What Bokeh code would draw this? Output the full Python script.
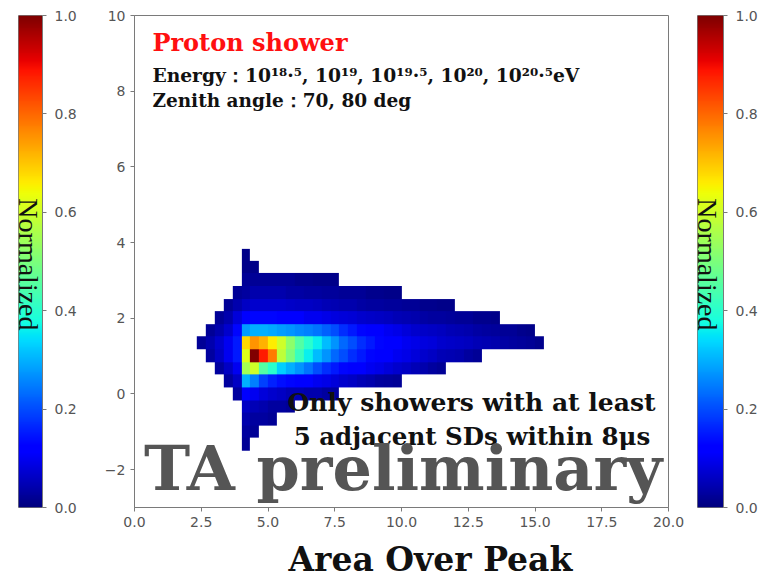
import numpy as np
from bokeh.plotting import figure
from bokeh.layouts import row
from bokeh.models import (LinearColorMapper, FixedTicker, NumeralTickFormatter,
                          Label, Title)
from bokeh.embed import file_html
from bokeh.resources import INLINE

# ---------------- data ----------------
# 2D histogram of (Area Over Peak, y), normalized to the maximum bin.
bin_width = 1 / 3
x_first_edge = 7 / 3      # left edge of histogram column 0
y_top_edge = 23 / 6       # top edge of histogram row 0 (rows run downward)
n_cols = 39

row_first_col = [5, 5, 5, 4, 3, 2, 1, 0, 1, 2, 3, 4, 5, 5, 5, 5]
row_values = [
    [0.01],
    [0.01, 0.01],
    [0.02, 0.02, 0.02, 0.02, 0.02, 0.02, 0.015, 0.015, 0.01, 0.01, 0.01],
    [0.02, 0.03, 0.04, 0.04, 0.04, 0.04, 0.035, 0.035, 0.03, 0.03, 0.025, 0.025,
     0.02, 0.02, 0.02, 0.015, 0.015, 0.01, 0.01],
    [0.02, 0.04, 0.06, 0.07, 0.07, 0.07, 0.07, 0.065, 0.06, 0.06, 0.055, 0.05,
     0.045, 0.04, 0.04, 0.035, 0.03, 0.03, 0.025, 0.025, 0.02, 0.02, 0.015, 0.015,
     0.01, 0.01],
    [0.02, 0.04, 0.08, 0.12, 0.13, 0.13, 0.13, 0.12, 0.12, 0.11, 0.1, 0.1, 0.09,
     0.085, 0.08, 0.075, 0.07, 0.065, 0.06, 0.055, 0.05, 0.045, 0.04, 0.035, 0.03,
     0.03, 0.025, 0.02, 0.02, 0.015, 0.015, 0.01],
    [0.02, 0.04, 0.07, 0.13, 0.28, 0.3, 0.3, 0.29, 0.28, 0.27, 0.26, 0.25, 0.24,
     0.22, 0.2, 0.17, 0.15, 0.13, 0.12, 0.11, 0.1, 0.09, 0.08, 0.07, 0.065, 0.06,
     0.055, 0.05, 0.045, 0.04, 0.035, 0.03, 0.025, 0.02, 0.02, 0.015, 0.01],
    [0.02, 0.04, 0.07, 0.1, 0.15, 0.68, 0.75, 0.72, 0.66, 0.6, 0.52, 0.45, 0.4,
     0.36, 0.31, 0.27, 0.23, 0.2, 0.17, 0.15, 0.13, 0.12, 0.11, 0.1, 0.09, 0.085,
     0.08, 0.07, 0.065, 0.06, 0.055, 0.05, 0.045, 0.04, 0.035, 0.03, 0.025, 0.02,
     0.015],
    [0.03, 0.06, 0.1, 0.15, 0.62, 1.0, 0.88, 0.78, 0.58, 0.5, 0.42, 0.36, 0.31,
     0.27, 0.23, 0.2, 0.17, 0.15, 0.13, 0.12, 0.11, 0.1, 0.09, 0.08, 0.07, 0.06,
     0.05, 0.045, 0.04, 0.03, 0.02],
    [0.03, 0.06, 0.1, 0.55, 0.6, 0.45, 0.4, 0.33, 0.3, 0.27, 0.24, 0.2, 0.17,
     0.15, 0.13, 0.12, 0.11, 0.1, 0.09, 0.08, 0.07, 0.06, 0.05, 0.04, 0.03, 0.02],
    [0.03, 0.06, 0.3, 0.25, 0.19, 0.16, 0.14, 0.13, 0.12, 0.11, 0.1, 0.09, 0.08,
     0.07, 0.06, 0.05, 0.04, 0.03, 0.025, 0.02],
    [0.03, 0.12, 0.1, 0.08, 0.07, 0.06, 0.05, 0.05, 0.04, 0.04, 0.03, 0.03],
    [0.06, 0.05, 0.04, 0.03, 0.03, 0.02],
    [0.04, 0.03, 0.03, 0.02],
    [0.03, 0.02],
    [0.02],
]

x_ticks = [0.0, 2.5, 5.0, 7.5, 10.0, 12.5, 15.0, 17.5, 20.0]
y_ticks = [-2, 0, 2, 4, 6, 8, 10]
cbar_ticks = [0.0, 0.2, 0.4, 0.6, 0.8, 1.0]


# ---------------- colormap (jet) ----------------
def jet_palette(n=256):
    t = np.linspace(0, 1, n)
    r = np.interp(t, [0, 0.35, 0.66, 0.89, 1], [0, 0, 1, 1, 0.5])
    g = np.interp(t, [0, 0.125, 0.375, 0.64, 0.91, 1], [0, 0, 1, 1, 0, 0])
    b = np.interp(t, [0, 0.11, 0.34, 0.65, 1], [0.5, 1, 1, 0, 0])
    return ["#%02x%02x%02x" % (int(round(255 * a)), int(round(255 * c)), int(round(255 * d)))
            for a, c, d in zip(r, g, b)]


mapper = LinearColorMapper(palette=jet_palette(), low=0, high=1, nan_color=(0, 0, 0, 0))

# ---------------- histogram grid (row 0 of the image is the bottom row) ----------------
n_rows = len(row_values)
hist = np.full((n_rows, n_cols), np.nan)
for r_idx, (c0, vals) in enumerate(zip(row_first_col, row_values)):
    hist[n_rows - 1 - r_idx, c0:c0 + len(vals)] = vals
y_bottom_edge = y_top_edge - n_rows * bin_width

TICK_FONT = "DejaVu Sans"
SERIF = "DejaVu Serif"
GREY = "#555555"
AXIS = "#7a7a7a"


def style_axis(ax, standoff=5):
    ax.major_tick_out = 4
    ax.major_tick_in = 0
    ax.minor_tick_out = 0
    ax.minor_tick_in = 0
    ax.axis_line_color = AXIS
    ax.major_tick_line_color = AXIS
    ax.major_label_text_color = GREY
    ax.major_label_text_font = TICK_FONT
    ax.major_label_text_font_size = "14px"
    ax.major_label_standoff = standoff


# ---------------- main panel ----------------
p = figure(width=590, height=587, x_range=(0, 20), y_range=(-3, 10),
           output_backend="svg", toolbar_location=None,
           min_border_left=34, min_border_right=22, min_border_top=15, min_border_bottom=80)
p.grid.visible = False
p.outline_line_color = AXIS
p.image(image=[hist], x=x_first_edge, y=y_bottom_edge,
        dw=n_cols * bin_width, dh=n_rows * bin_width, color_mapper=mapper)

p.xaxis.ticker = FixedTicker(ticks=x_ticks)
p.xaxis.formatter = NumeralTickFormatter(format="0.0")
p.yaxis.ticker = FixedTicker(ticks=y_ticks)
p.yaxis.major_label_overrides = {-2: "\u22122"}
style_axis(p.xaxis[0])
style_axis(p.yaxis[0])

p.add_layout(Title(text="Area Over Peak", align="left", offset=154, standoff=17,
                   text_font=SERIF, text_font_style="bold", text_font_size="33px",
                   text_color="#111111"), "below")

p.add_layout(Label(x=0.67, y=9.29, text="Proton shower", text_color="#ff1010",
                   text_font=SERIF, text_font_style="bold", text_font_size="24px",
                   text_baseline="middle"))
p.add_layout(Label(x=0.67, y=8.44,
                   text="Energy\uff1a10\u00b9\u2078\u00b7\u2075, 10\u00b9\u2079, 10\u00b9\u2079\u00b7\u2075, 10\u00b2\u2070, 10\u00b2\u2070\u00b7\u2075eV",
                   text_color="#111111", text_font=SERIF, text_font_style="bold",
                   text_font_size="18.7px", text_baseline="middle"))
p.add_layout(Label(x=0.67, y=7.75, text="Zenith angle\uff1a70, 80 deg",
                   text_color="#111111", text_font=SERIF, text_font_style="bold",
                   text_font_size="18.5px", text_baseline="middle"))
p.add_layout(Label(x=5.73, y=-0.22, text="Only showers with at least",
                   text_color="#111111", text_font=SERIF, text_font_style="bold",
                   text_font_size="25px", text_baseline="middle"))
p.add_layout(Label(x=5.96, y=-1.12, text="5 adjacent SDs within 8\u03bcs",
                   text_color="#111111", text_font=SERIF, text_font_style="bold",
                   text_font_size="24.5px", text_baseline="middle"))
p.add_layout(Label(x=10.06, y=-1.97, text="TA preliminary",
                   text_color="#555555", text_font=SERIF, text_font_style="bold",
                   text_font_size="62px", text_align="center", text_baseline="middle"))


# ---------------- colorbars ----------------
gradient = np.linspace(0, 1, 256).reshape(256, 1)


def colorbar_panel(width, border_left, border_right):
    cb = figure(width=width, height=587, x_range=(0, 1), y_range=(0, 1),
                output_backend="svg", toolbar_location=None,
                x_axis_location=None, y_axis_location="right",
                min_border_left=border_left, min_border_right=border_right,
                min_border_top=15, min_border_bottom=80)
    cb.grid.visible = False
    cb.outline_line_color = AXIS
    cb.image(image=[gradient], x=0, y=0, dw=1, dh=1, color_mapper=mapper)
    cb.yaxis.ticker = FixedTicker(ticks=cbar_ticks)
    cb.yaxis.formatter = NumeralTickFormatter(format="0.0")
    style_axis(cb.yaxis[0], standoff=8)
    cb.add_layout(Label(x=0.4, y=0.494, text="Normalized", angle=-np.pi / 2,
                        text_align="center", text_baseline="middle",
                        text_font="Liberation Serif", text_font_size="28px",
                        text_color="#111111"))
    return cb


left_cb = colorbar_panel(100, 18, 58)
right_cb = colorbar_panel(70, 7, 37)

layout = row(left_cb, p, right_cb)
open("out.html", "w").write(file_html(layout, INLINE))
